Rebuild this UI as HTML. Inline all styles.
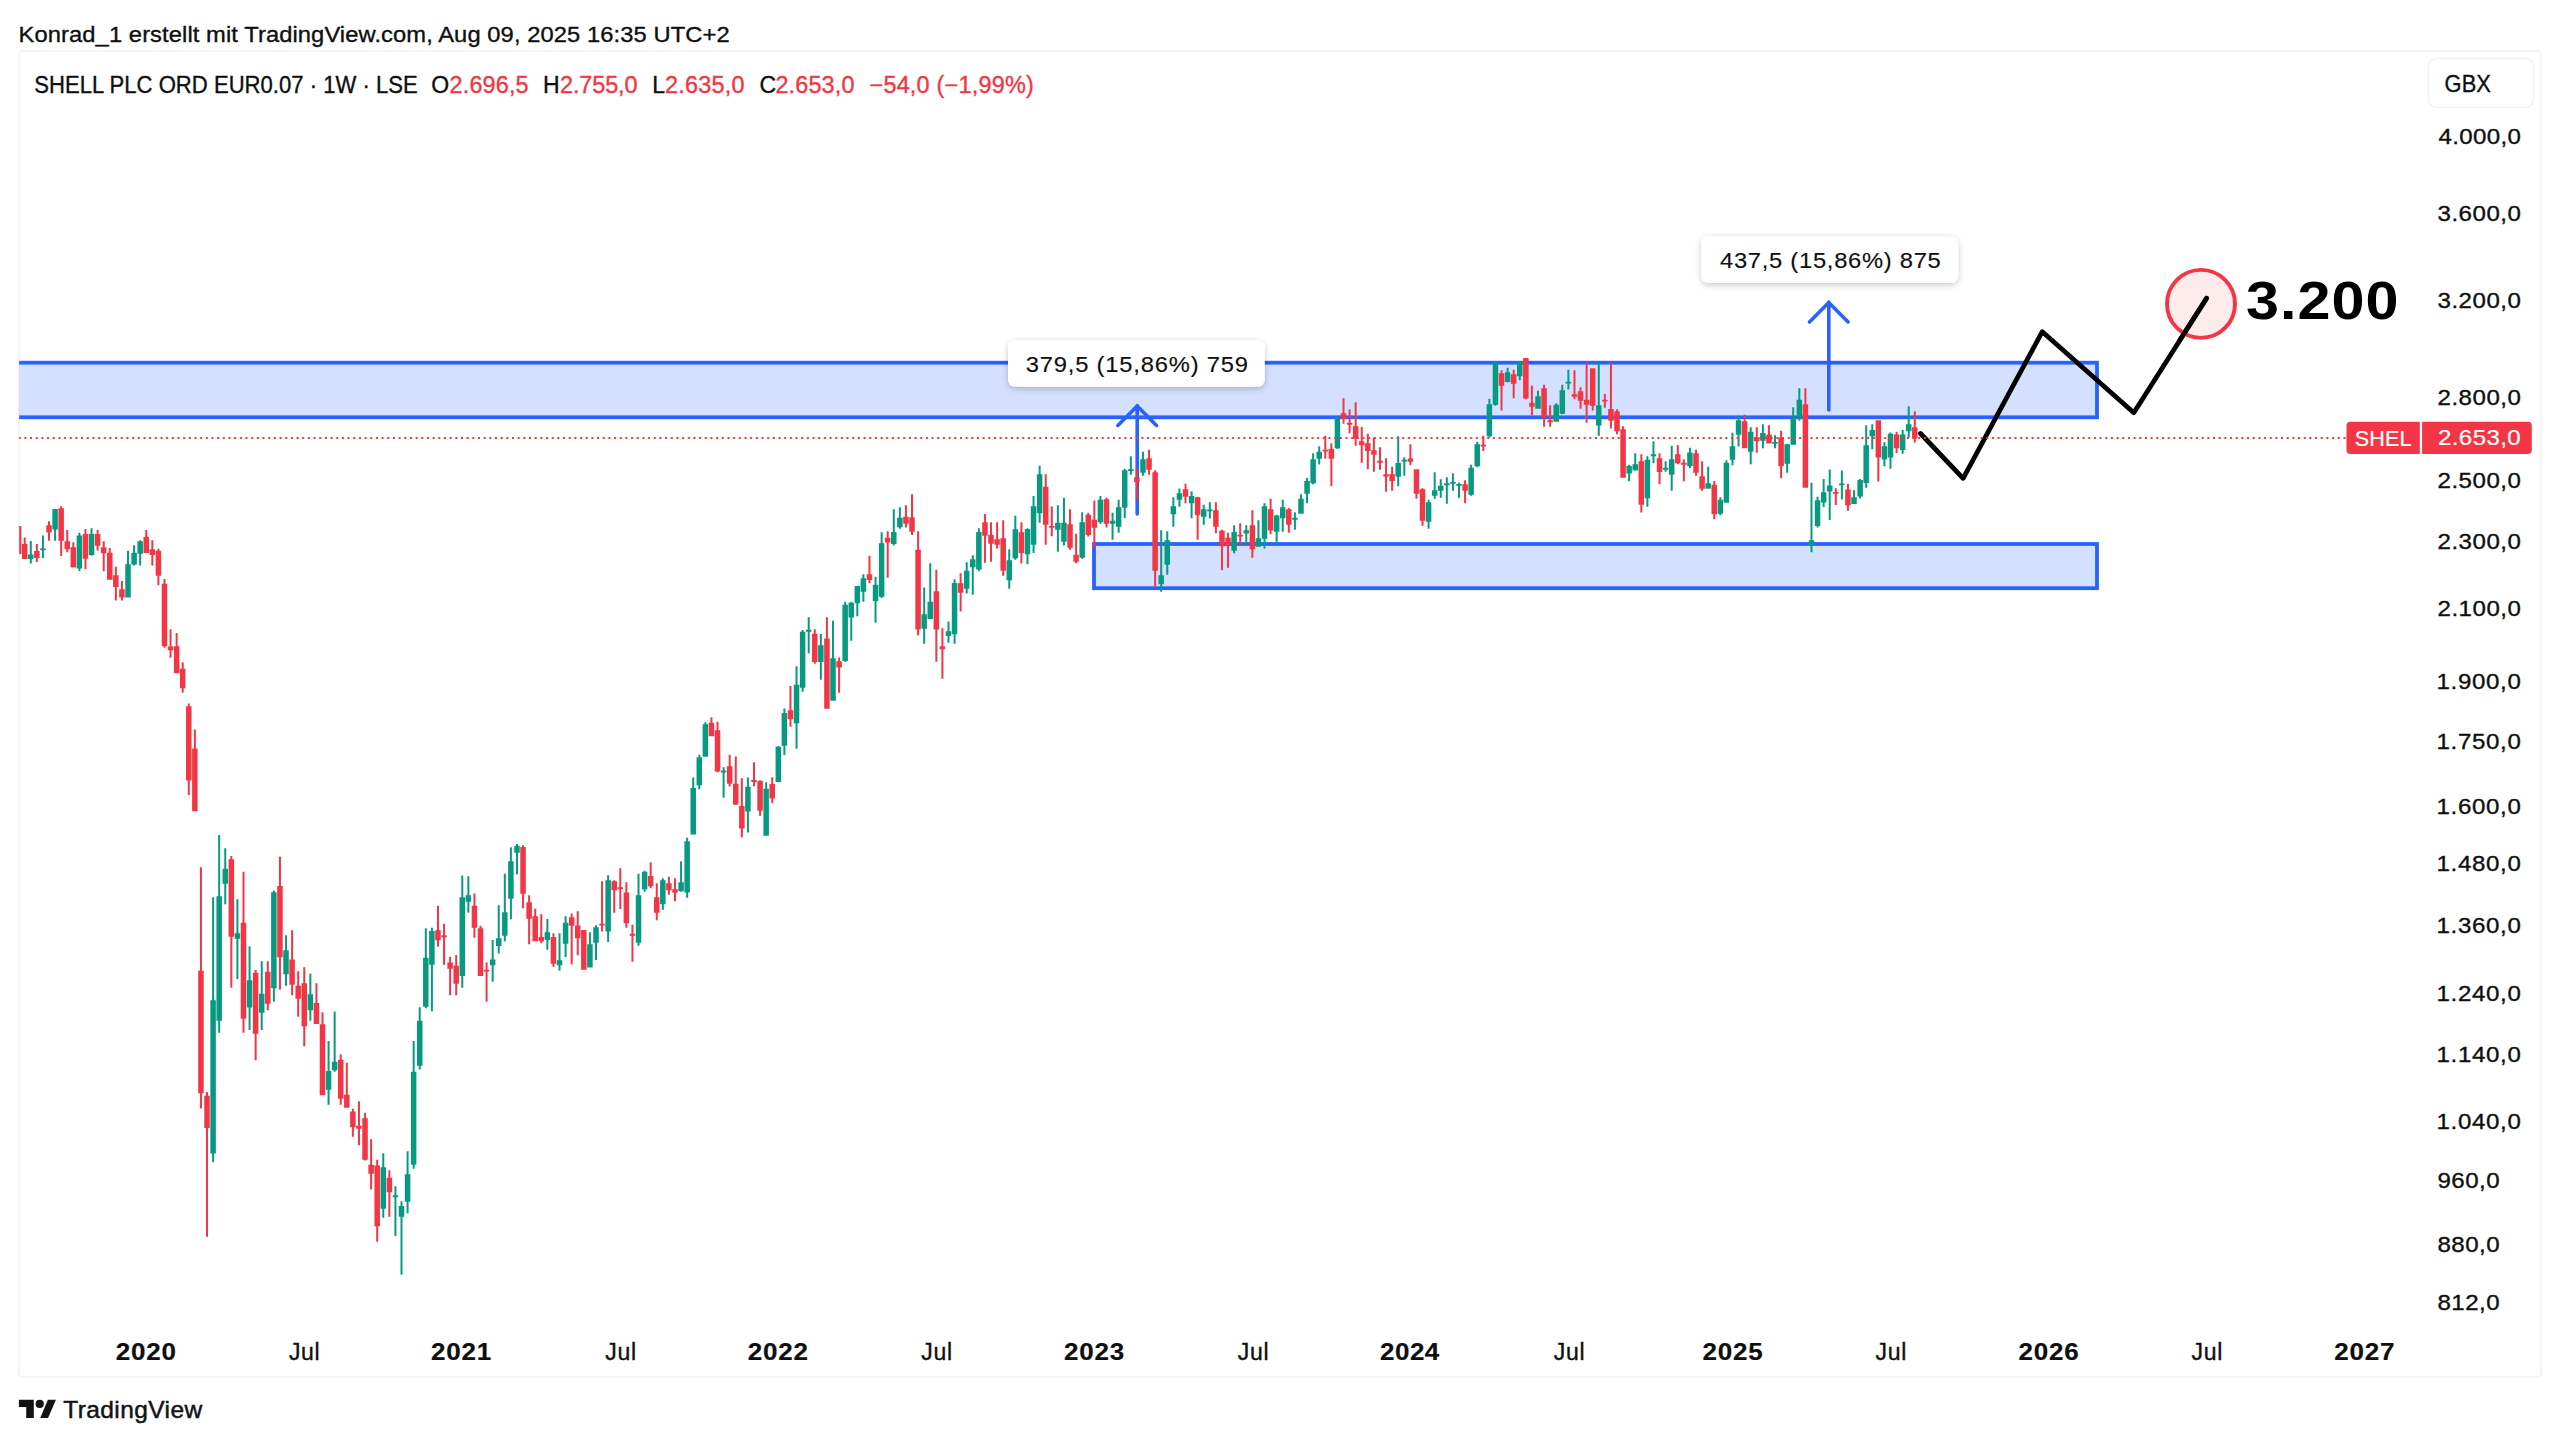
<!DOCTYPE html>
<html lang="de"><head><meta charset="utf-8"><title>SHELL PLC ORD EUR0.07 · 1W · LSE</title>
<style>html,body{margin:0;padding:0;background:#fff}body{width:2560px;height:1443px;position:relative;overflow:hidden;font-family:"Liberation Sans",sans-serif}</style></head>
<body>
<svg width="2560" height="1443" viewBox="0 0 2560 1443" style="position:absolute;left:0;top:0">
<defs><filter id="sh" x="-10%" y="-30%" width="120%" height="170%"><feDropShadow dx="0" dy="2" stdDeviation="3" flood-color="#000" flood-opacity="0.22"/></filter>
<clipPath id="cp"><rect x="19.2" y="52" width="2400" height="1280"/></clipPath><clipPath id="cp2"><rect x="19.2" y="52" width="2328" height="1280"/></clipPath></defs>
<rect x="19" y="51" width="2522" height="1326" rx="4" fill="none" stroke="#f4f4f4" stroke-width="2"/>
<rect x="2428.5" y="58.5" width="105" height="49" rx="8" fill="#fff" stroke="#f1f1f1" stroke-width="1.5"/>
<g clip-path="url(#cp)">
<rect x="0" y="362.7" width="2097" height="54.6" fill="#2962ff" fill-opacity="0.2" stroke="#2962ff" stroke-width="3.8"/>
<rect x="1094" y="544" width="1003" height="44.2" fill="#2962ff" fill-opacity="0.2" stroke="#2962ff" stroke-width="3.8"/>
<path d="M1137.2 514 L1137.2 405.5 M1117.9 425.4 L1137.2 406.0 L1156.5 425.4" fill="none" stroke="#2962ff" stroke-width="3.6" stroke-linecap="round" stroke-linejoin="miter"/>
<path d="M1828.8 410 L1828.8 302 M1809.5 321.9 L1828.8 302.5 L1848.1 321.9" fill="none" stroke="#2962ff" stroke-width="3.6" stroke-linecap="round" stroke-linejoin="miter"/>
<polyline points="1920.5,433.5 1963.1,478.3 2042.3,331.7 2133.8,412.7 2206.6,298.2" fill="none" stroke="#000" stroke-width="4.8" stroke-linecap="round" stroke-linejoin="round"/>
</g>
<circle cx="2201" cy="303.9" r="34" fill="#f23645" fill-opacity="0.1" stroke="#f23645" stroke-width="3.9"/>
<polyline points="2180,339.8 2206.6,298.2" fill="none" stroke="#000" stroke-width="4.8" stroke-linecap="round"/>
<g clip-path="url(#cp)" shape-rendering="auto">
<path d="M17.62 526.0h2.0V554.0h-2.0zM15.87 526.0h5.5V554.0h-5.5zM23.70 537.5h2.0V559.0h-2.0zM21.95 544.0h5.5V559.0h-5.5z" fill="#f23645"/>
<path d="M29.78 541.0h2.0V563.5h-2.0zM28.03 554.5h5.5V559.0h-5.5z" fill="#089981"/>
<path d="M35.85 544.0h2.0V562.0h-2.0zM34.10 551.0h5.5V558.0h-5.5z" fill="#f23645"/>
<path d="M41.93 535.5h2.0V558.0h-2.0zM40.18 548.5h5.5V550.3h-5.5z" fill="#089981"/>
<path d="M48.01 521.2h2.0V540.8h-2.0zM46.26 525.2h5.5V532.5h-5.5z" fill="#f23645"/>
<path d="M54.09 509.0h2.0V540.8h-2.0zM52.34 509.0h5.5V529.5h-5.5z" fill="#089981"/>
<path d="M60.16 506.2h2.0V556.0h-2.0zM58.41 508.3h5.5V540.8h-5.5zM66.24 530.0h2.0V552.2h-2.0zM64.49 541.2h5.5V549.2h-5.5zM72.32 542.2h2.0V567.5h-2.0zM70.57 547.2h5.5V567.5h-5.5z" fill="#f23645"/>
<path d="M78.40 532.8h2.0V571.0h-2.0zM76.65 535.5h5.5V568.5h-5.5z" fill="#089981"/>
<path d="M84.47 529.0h2.0V569.3h-2.0zM82.72 534.0h5.5V558.8h-5.5z" fill="#f23645"/>
<path d="M90.55 528.2h2.0V555.7h-2.0zM88.80 534.0h5.5V555.0h-5.5z" fill="#089981"/>
<path d="M96.63 530.0h2.0V550.5h-2.0zM94.88 534.0h5.5V545.8h-5.5zM102.71 541.2h2.0V571.2h-2.0zM100.96 547.2h5.5V553.2h-5.5zM108.78 548.0h2.0V579.8h-2.0zM107.03 552.8h5.5V579.8h-5.5zM114.86 566.8h2.0V600.5h-2.0zM113.11 575.2h5.5V587.0h-5.5zM120.94 581.0h2.0V600.5h-2.0zM119.19 589.2h5.5V597.5h-5.5z" fill="#f23645"/>
<path d="M127.02 550.8h2.0V597.5h-2.0zM125.27 564.2h5.5V597.5h-5.5zM133.09 545.2h2.0V565.5h-2.0zM131.34 552.8h5.5V564.5h-5.5zM139.17 540.2h2.0V565.5h-2.0zM137.42 541.2h5.5V553.8h-5.5z" fill="#089981"/>
<path d="M145.25 530.0h2.0V553.0h-2.0zM143.50 536.8h5.5V553.0h-5.5zM151.33 540.2h2.0V565.5h-2.0zM149.58 549.2h5.5V555.0h-5.5zM157.40 548.8h2.0V585.2h-2.0zM155.65 550.8h5.5V575.8h-5.5zM163.48 579.0h2.0V647.7h-2.0zM161.73 583.8h5.5V646.2h-5.5zM169.56 629.2h2.0V657.7h-2.0zM167.81 646.5h5.5V650.2h-5.5zM175.64 633.0h2.0V673.2h-2.0zM173.89 646.2h5.5V673.2h-5.5zM181.71 662.2h2.0V692.7h-2.0zM179.96 668.7h5.5V688.2h-5.5zM187.79 703.5h2.0V795.0h-2.0zM186.04 706.2h5.5V780.6h-5.5zM193.87 729.4h2.0V811.2h-2.0zM192.12 748.5h5.5V811.2h-5.5zM199.95 867.2h2.0V1108.5h-2.0zM198.20 970.7h5.5V1093.2h-5.5zM206.02 1092.0h2.0V1236.7h-2.0zM204.27 1095.7h5.5V1128.0h-5.5z" fill="#f23645"/>
<path d="M212.10 897.2h2.0V1162.2h-2.0zM210.35 1000.2h5.5V1153.5h-5.5zM218.18 835.0h2.0V1032.7h-2.0zM216.43 896.2h5.5V1020.7h-5.5zM224.26 848.2h2.0V904.3h-2.0zM222.51 868.7h5.5V883.7h-5.5z" fill="#089981"/>
<path d="M230.33 856.0h2.0V987.7h-2.0zM228.58 859.3h5.5V936.7h-5.5z" fill="#f23645"/>
<path d="M236.41 899.2h2.0V979.0h-2.0zM234.66 933.2h5.5V938.8h-5.5z" fill="#089981"/>
<path d="M242.49 871.7h2.0V1032.7h-2.0zM240.74 922.7h5.5V1018.7h-5.5z" fill="#f23645"/>
<path d="M248.57 946.3h2.0V1030.0h-2.0zM246.82 980.2h5.5V1007.5h-5.5z" fill="#089981"/>
<path d="M254.64 970.0h2.0V1060.2h-2.0zM252.89 972.7h5.5V1033.7h-5.5z" fill="#f23645"/>
<path d="M260.72 961.3h2.0V1030.0h-2.0zM258.97 993.7h5.5V1012.7h-5.5z" fill="#089981"/>
<path d="M266.80 961.3h2.0V1010.2h-2.0zM265.05 971.8h5.5V1003.7h-5.5z" fill="#f23645"/>
<path d="M272.88 890.5h2.0V1001.8h-2.0zM271.13 892.3h5.5V988.3h-5.5z" fill="#089981"/>
<path d="M278.95 856.7h2.0V989.5h-2.0zM277.20 886.0h5.5V957.2h-5.5z" fill="#f23645"/>
<path d="M285.03 935.2h2.0V985.7h-2.0zM283.28 950.2h5.5V974.2h-5.5z" fill="#089981"/>
<path d="M291.11 930.2h2.0V995.2h-2.0zM289.36 959.5h5.5V984.7h-5.5zM297.19 971.2h2.0V1016.8h-2.0zM295.44 985.7h5.5V998.8h-5.5zM303.26 967.3h2.0V1046.2h-2.0zM301.51 983.2h5.5V1026.2h-5.5z" fill="#f23645"/>
<path d="M309.34 973.7h2.0V1020.7h-2.0zM307.59 994.3h5.5V1010.2h-5.5z" fill="#089981"/>
<path d="M315.42 983.2h2.0V1024.0h-2.0zM313.67 1003.0h5.5V1024.0h-5.5zM321.50 1012.3h2.0V1095.3h-2.0zM319.75 1024.2h5.5V1095.3h-5.5z" fill="#f23645"/>
<path d="M327.57 1041.0h2.0V1104.7h-2.0zM325.82 1071.0h5.5V1089.7h-5.5zM333.65 1011.5h2.0V1071.7h-2.0zM331.90 1061.7h5.5V1070.2h-5.5z" fill="#089981"/>
<path d="M339.73 1054.2h2.0V1104.7h-2.0zM337.98 1059.7h5.5V1098.7h-5.5zM345.81 1062.7h2.0V1107.7h-2.0zM344.06 1094.7h5.5V1107.7h-5.5zM351.88 1108.8h2.0V1136.7h-2.0zM350.13 1111.5h5.5V1127.2h-5.5zM357.96 1101.3h2.0V1145.2h-2.0zM356.21 1125.7h5.5V1128.7h-5.5zM364.04 1112.7h2.0V1160.5h-2.0zM362.29 1118.2h5.5V1159.8h-5.5zM370.12 1139.2h2.0V1189.5h-2.0zM368.37 1164.7h5.5V1173.7h-5.5zM376.19 1159.8h2.0V1241.7h-2.0zM374.44 1165.5h5.5V1226.2h-5.5z" fill="#f23645"/>
<path d="M382.27 1153.2h2.0V1217.7h-2.0zM380.52 1167.3h5.5V1208.7h-5.5z" fill="#089981"/>
<path d="M388.35 1170.3h2.0V1216.8h-2.0zM386.60 1177.8h5.5V1192.2h-5.5z" fill="#f23645"/>
<path d="M394.43 1186.2h2.0V1236.0h-2.0zM392.68 1195.2h5.5V1197.3h-5.5zM400.50 1201.2h2.0V1274.7h-2.0zM398.75 1206.0h5.5V1216.8h-5.5zM406.58 1151.2h2.0V1213.2h-2.0zM404.83 1174.2h5.5V1201.8h-5.5zM412.66 1041.0h2.0V1168.7h-2.0zM410.91 1071.7h5.5V1164.7h-5.5zM418.74 1007.2h2.0V1069.5h-2.0zM416.99 1020.7h5.5V1065.7h-5.5zM424.81 928.3h2.0V1008.2h-2.0zM423.06 957.7h5.5V1006.7h-5.5zM430.89 927.7h2.0V1011.2h-2.0zM429.14 931.0h5.5V964.7h-5.5z" fill="#089981"/>
<path d="M436.97 905.8h2.0V946.7h-2.0zM435.22 930.2h5.5V940.3h-5.5zM443.05 923.8h2.0V964.7h-2.0zM441.30 935.2h5.5V937.3h-5.5zM449.12 956.8h2.0V995.2h-2.0zM447.37 962.5h5.5V968.8h-5.5zM455.20 955.0h2.0V995.2h-2.0zM453.45 965.8h5.5V983.8h-5.5z" fill="#f23645"/>
<path d="M461.28 875.5h2.0V987.7h-2.0zM459.53 897.2h5.5V976.0h-5.5zM467.36 876.2h2.0V912.7h-2.0zM465.61 895.3h5.5V901.7h-5.5z" fill="#089981"/>
<path d="M473.43 893.5h2.0V937.7h-2.0zM471.68 905.8h5.5V927.7h-5.5zM479.51 925.7h2.0V976.0h-2.0zM477.76 928.3h5.5V976.0h-5.5zM485.59 962.5h2.0V1001.8h-2.0zM483.84 969.7h5.5V971.5h-5.5z" fill="#f23645"/>
<path d="M491.67 940.0h2.0V981.7h-2.0zM489.92 959.5h5.5V965.2h-5.5zM497.74 905.2h2.0V953.5h-2.0zM495.99 938.2h5.5V946.0h-5.5zM503.82 873.7h2.0V941.2h-2.0zM502.07 912.2h5.5V935.8h-5.5zM509.90 847.3h2.0V919.3h-2.0zM508.15 861.2h5.5V898.7h-5.5zM515.98 844.0h2.0V874.3h-2.0zM514.23 845.8h5.5V852.7h-5.5z" fill="#089981"/>
<path d="M522.05 845.2h2.0V908.2h-2.0zM520.30 847.0h5.5V893.8h-5.5zM528.13 895.3h2.0V944.2h-2.0zM526.38 902.2h5.5V918.7h-5.5zM534.21 908.8h2.0V941.2h-2.0zM532.46 916.3h5.5V941.2h-5.5zM540.29 914.2h2.0V943.3h-2.0zM538.54 937.0h5.5V941.2h-5.5z" fill="#f23645"/>
<path d="M546.37 919.0h2.0V949.7h-2.0zM544.62 932.2h5.5V940.0h-5.5z" fill="#089981"/>
<path d="M552.44 933.2h2.0V966.7h-2.0zM550.69 937.0h5.5V963.7h-5.5z" fill="#f23645"/>
<path d="M558.52 933.2h2.0V970.7h-2.0zM556.77 960.2h5.5V965.2h-5.5zM564.60 916.2h2.0V957.0h-2.0zM562.85 922.8h5.5V943.8h-5.5z" fill="#089981"/>
<path d="M570.68 913.5h2.0V964.5h-2.0zM568.93 917.2h5.5V925.8h-5.5zM576.75 911.2h2.0V955.2h-2.0zM575.00 925.5h5.5V938.2h-5.5zM582.83 930.0h2.0V969.7h-2.0zM581.08 930.0h5.5V969.7h-5.5z" fill="#f23645"/>
<path d="M588.91 932.2h2.0V967.5h-2.0zM587.16 944.2h5.5V967.5h-5.5zM594.99 925.2h2.0V960.0h-2.0zM593.24 927.3h5.5V942.7h-5.5z" fill="#089981"/>
<path d="M601.06 881.2h2.0V931.5h-2.0zM599.31 923.7h5.5V925.5h-5.5z" fill="#f23645"/>
<path d="M607.14 875.2h2.0V942.0h-2.0zM605.39 880.2h5.5V931.5h-5.5z" fill="#089981"/>
<path d="M613.22 880.2h2.0V912.7h-2.0zM611.47 881.2h5.5V890.2h-5.5zM619.29 868.2h2.0V909.0h-2.0zM617.54 887.2h5.5V889.2h-5.5zM625.37 882.3h2.0V927.7h-2.0zM623.62 892.5h5.5V923.2h-5.5zM631.45 924.7h2.0V961.8h-2.0zM629.70 933.7h5.5V935.7h-5.5z" fill="#f23645"/>
<path d="M637.53 873.7h2.0V945.7h-2.0zM635.78 895.2h5.5V942.7h-5.5zM643.61 870.7h2.0V891.7h-2.0zM641.86 871.8h5.5V889.2h-5.5z" fill="#089981"/>
<path d="M649.68 862.2h2.0V888.3h-2.0zM647.93 876.0h5.5V886.2h-5.5zM655.76 883.2h2.0V920.2h-2.0zM654.01 897.3h5.5V912.7h-5.5z" fill="#f23645"/>
<path d="M661.84 878.2h2.0V909.7h-2.0zM660.09 880.2h5.5V904.2h-5.5z" fill="#089981"/>
<path d="M667.91 876.7h2.0V894.7h-2.0zM666.16 883.2h5.5V890.2h-5.5zM673.99 878.2h2.0V901.2h-2.0zM672.24 889.2h5.5V892.8h-5.5z" fill="#f23645"/>
<path d="M680.07 861.3h2.0V891.7h-2.0zM678.32 882.3h5.5V891.3h-5.5zM686.15 837.7h2.0V897.7h-2.0zM684.40 841.2h5.5V892.5h-5.5zM692.23 777.5h2.0V834.4h-2.0zM690.48 787.9h5.5V834.4h-5.5zM698.30 754.7h2.0V789.2h-2.0zM696.55 757.2h5.5V785.3h-5.5zM704.38 722.3h2.0V756.8h-2.0zM702.63 724.2h5.5V756.8h-5.5z" fill="#089981"/>
<path d="M710.46 717.2h2.0V736.2h-2.0zM708.71 722.7h5.5V736.2h-5.5zM716.53 721.7h2.0V772.2h-2.0zM714.78 730.2h5.5V771.5h-5.5z" fill="#f23645"/>
<path d="M722.61 767.3h2.0V797.7h-2.0zM720.86 770.6h5.5V772.4h-5.5z" fill="#089981"/>
<path d="M728.69 754.7h2.0V786.5h-2.0zM726.94 766.2h5.5V783.8h-5.5zM734.77 756.5h2.0V805.0h-2.0zM733.02 783.8h5.5V804.6h-5.5zM740.85 778.2h2.0V837.3h-2.0zM739.10 806.0h5.5V828.6h-5.5z" fill="#f23645"/>
<path d="M746.92 777.5h2.0V832.6h-2.0zM745.17 786.8h5.5V811.6h-5.5z" fill="#089981"/>
<path d="M753.00 762.2h2.0V786.2h-2.0zM751.25 780.1h5.5V781.9h-5.5zM759.08 780.2h2.0V815.7h-2.0zM757.33 781.0h5.5V810.8h-5.5z" fill="#f23645"/>
<path d="M765.15 782.2h2.0V835.8h-2.0zM763.40 788.7h5.5V835.8h-5.5z" fill="#089981"/>
<path d="M771.23 777.2h2.0V803.3h-2.0zM769.48 783.9h5.5V798.6h-5.5z" fill="#f23645"/>
<path d="M777.31 746.0h2.0V782.3h-2.0zM775.56 746.7h5.5V782.1h-5.5zM783.39 708.5h2.0V755.0h-2.0zM781.64 713.0h5.5V745.7h-5.5z" fill="#089981"/>
<path d="M789.47 686.0h2.0V726.8h-2.0zM787.72 710.3h5.5V719.3h-5.5z" fill="#f23645"/>
<path d="M795.54 666.2h2.0V748.7h-2.0zM793.79 684.8h5.5V723.2h-5.5zM801.62 629.9h2.0V691.7h-2.0zM799.87 631.8h5.5V687.8h-5.5zM807.70 617.2h2.0V653.3h-2.0zM805.95 629.8h5.5V631.7h-5.5z" fill="#089981"/>
<path d="M813.77 629.3h2.0V663.8h-2.0zM812.02 633.8h5.5V662.0h-5.5z" fill="#f23645"/>
<path d="M819.85 633.9h2.0V679.7h-2.0zM818.10 645.2h5.5V661.9h-5.5z" fill="#089981"/>
<path d="M825.93 617.2h2.0V708.8h-2.0zM824.18 638.4h5.5V708.8h-5.5z" fill="#f23645"/>
<path d="M832.01 620.7h2.0V700.7h-2.0zM830.26 658.2h5.5V700.7h-5.5z" fill="#089981"/>
<path d="M838.09 657.4h2.0V692.7h-2.0zM836.34 661.2h5.5V667.5h-5.5z" fill="#f23645"/>
<path d="M844.16 601.7h2.0V661.7h-2.0zM842.41 604.7h5.5V661.0h-5.5zM850.24 601.7h2.0V640.8h-2.0zM848.49 602.8h5.5V617.5h-5.5zM856.32 585.7h2.0V616.3h-2.0zM854.57 586.0h5.5V603.2h-5.5zM862.39 574.3h2.0V601.7h-2.0zM860.64 578.2h5.5V591.7h-5.5z" fill="#089981"/>
<path d="M868.47 555.7h2.0V583.3h-2.0zM866.72 574.3h5.5V580.0h-5.5z" fill="#f23645"/>
<path d="M874.55 576.7h2.0V622.7h-2.0zM872.80 584.8h5.5V601.0h-5.5zM880.63 532.3h2.0V598.0h-2.0zM878.88 543.2h5.5V596.8h-5.5z" fill="#089981"/>
<path d="M886.71 531.2h2.0V577.7h-2.0zM884.96 537.7h5.5V542.5h-5.5z" fill="#f23645"/>
<path d="M892.78 509.2h2.0V545.5h-2.0zM891.03 532.0h5.5V544.0h-5.5zM898.86 507.2h2.0V528.7h-2.0zM897.11 517.7h5.5V527.2h-5.5z" fill="#089981"/>
<path d="M904.94 505.3h2.0V527.5h-2.0zM903.19 516.7h5.5V523.7h-5.5zM911.01 494.2h2.0V535.0h-2.0zM909.26 517.3h5.5V531.7h-5.5zM917.09 531.2h2.0V635.2h-2.0zM915.34 549.7h5.5V629.4h-5.5z" fill="#f23645"/>
<path d="M923.17 587.5h2.0V643.7h-2.0zM921.42 614.2h5.5V628.7h-5.5zM929.25 563.2h2.0V619.0h-2.0zM927.50 601.7h5.5V619.0h-5.5z" fill="#089981"/>
<path d="M935.33 569.8h2.0V661.7h-2.0zM933.58 591.2h5.5V629.6h-5.5zM941.40 628.2h2.0V678.8h-2.0zM939.65 646.3h5.5V649.3h-5.5z" fill="#f23645"/>
<path d="M947.48 621.6h2.0V642.7h-2.0zM945.73 631.3h5.5V636.0h-5.5zM953.56 579.2h2.0V643.7h-2.0zM951.81 583.0h5.5V634.3h-5.5z" fill="#089981"/>
<path d="M959.63 573.2h2.0V611.5h-2.0zM957.88 583.3h5.5V592.7h-5.5z" fill="#f23645"/>
<path d="M965.71 562.3h2.0V593.5h-2.0zM963.96 570.7h5.5V588.7h-5.5zM971.79 555.2h2.0V594.7h-2.0zM970.04 559.3h5.5V567.2h-5.5zM977.87 528.2h2.0V571.0h-2.0zM976.12 532.0h5.5V569.5h-5.5z" fill="#089981"/>
<path d="M983.95 514.0h2.0V562.7h-2.0zM982.20 522.2h5.5V535.7h-5.5zM990.02 522.2h2.0V561.7h-2.0zM988.27 534.7h5.5V543.7h-5.5zM996.10 522.2h2.0V548.5h-2.0zM994.35 539.2h5.5V544.7h-5.5zM1002.18 520.3h2.0V575.8h-2.0zM1000.43 538.3h5.5V570.7h-5.5z" fill="#f23645"/>
<path d="M1008.25 549.2h2.0V588.7h-2.0zM1006.50 560.2h5.5V580.3h-5.5zM1014.33 515.8h2.0V559.7h-2.0zM1012.58 529.3h5.5V558.2h-5.5z" fill="#089981"/>
<path d="M1020.41 522.2h2.0V563.5h-2.0zM1018.66 532.3h5.5V553.0h-5.5z" fill="#f23645"/>
<path d="M1026.49 528.2h2.0V564.2h-2.0zM1024.74 529.0h5.5V554.2h-5.5zM1032.56 496.0h2.0V553.0h-2.0zM1030.81 506.2h5.5V544.7h-5.5zM1038.64 465.7h2.0V522.7h-2.0zM1036.89 474.2h5.5V513.2h-5.5z" fill="#089981"/>
<path d="M1044.72 474.2h2.0V544.7h-2.0zM1042.97 486.7h5.5V524.8h-5.5zM1050.80 506.5h2.0V536.2h-2.0zM1049.05 526.0h5.5V527.8h-5.5z" fill="#f23645"/>
<path d="M1056.88 505.3h2.0V551.8h-2.0zM1055.12 522.7h5.5V529.7h-5.5zM1062.95 497.8h2.0V545.5h-2.0zM1061.20 522.7h5.5V541.7h-5.5z" fill="#089981"/>
<path d="M1069.03 509.2h2.0V549.7h-2.0zM1067.28 524.2h5.5V547.7h-5.5zM1075.11 533.8h2.0V563.2h-2.0zM1073.36 554.8h5.5V561.7h-5.5z" fill="#f23645"/>
<path d="M1081.18 512.2h2.0V558.7h-2.0zM1079.43 522.2h5.5V557.8h-5.5z" fill="#089981"/>
<path d="M1087.26 512.8h2.0V536.5h-2.0zM1085.51 514.7h5.5V535.0h-5.5zM1093.34 500.5h2.0V548.5h-2.0zM1091.59 519.7h5.5V527.8h-5.5z" fill="#f23645"/>
<path d="M1099.42 496.0h2.0V523.7h-2.0zM1097.67 499.7h5.5V522.2h-5.5z" fill="#089981"/>
<path d="M1105.49 497.8h2.0V527.5h-2.0zM1103.74 499.3h5.5V523.7h-5.5z" fill="#f23645"/>
<path d="M1111.57 512.8h2.0V539.8h-2.0zM1109.82 520.7h5.5V523.7h-5.5zM1117.65 499.7h2.0V532.7h-2.0zM1115.90 507.2h5.5V526.7h-5.5zM1123.73 469.0h2.0V518.2h-2.0zM1121.98 470.2h5.5V507.7h-5.5zM1129.81 456.2h2.0V474.7h-2.0zM1128.06 469.2h5.5V470.9h-5.5z" fill="#089981"/>
<path d="M1135.88 468.2h2.0V499.0h-2.0zM1134.13 477.2h5.5V482.2h-5.5z" fill="#f23645"/>
<path d="M1141.96 451.7h2.0V475.7h-2.0zM1140.21 459.2h5.5V472.7h-5.5z" fill="#089981"/>
<path d="M1148.04 449.8h2.0V474.7h-2.0zM1146.29 458.2h5.5V469.7h-5.5zM1154.12 470.2h2.0V587.2h-2.0zM1152.37 472.3h5.5V570.7h-5.5z" fill="#f23645"/>
<path d="M1160.19 530.2h2.0V591.7h-2.0zM1158.44 575.2h5.5V584.2h-5.5zM1166.27 531.2h2.0V574.7h-2.0zM1164.52 540.2h5.5V564.7h-5.5zM1172.35 497.2h2.0V526.7h-2.0zM1170.60 506.2h5.5V514.3h-5.5zM1178.42 488.5h2.0V506.8h-2.0zM1176.67 493.3h5.5V499.7h-5.5z" fill="#089981"/>
<path d="M1184.50 483.7h2.0V503.2h-2.0zM1182.75 489.2h5.5V496.7h-5.5z" fill="#f23645"/>
<path d="M1190.58 491.2h2.0V518.2h-2.0zM1188.83 496.0h5.5V503.2h-5.5z" fill="#089981"/>
<path d="M1196.66 496.7h2.0V539.8h-2.0zM1194.91 497.2h5.5V515.2h-5.5z" fill="#f23645"/>
<path d="M1202.73 504.7h2.0V524.8h-2.0zM1200.98 509.2h5.5V516.7h-5.5zM1208.81 502.3h2.0V518.5h-2.0zM1207.06 509.5h5.5V511.3h-5.5z" fill="#089981"/>
<path d="M1214.89 502.3h2.0V533.2h-2.0zM1213.14 510.2h5.5V526.7h-5.5zM1220.97 529.7h2.0V570.2h-2.0zM1219.22 530.8h5.5V546.2h-5.5zM1227.05 532.7h2.0V567.7h-2.0zM1225.30 537.7h5.5V545.8h-5.5z" fill="#f23645"/>
<path d="M1233.12 525.2h2.0V553.3h-2.0zM1231.37 532.0h5.5V550.7h-5.5z" fill="#089981"/>
<path d="M1239.20 523.3h2.0V545.8h-2.0zM1237.45 534.7h5.5V536.5h-5.5z" fill="#f23645"/>
<path d="M1245.28 525.2h2.0V545.8h-2.0zM1243.53 530.2h5.5V533.5h-5.5z" fill="#089981"/>
<path d="M1251.36 510.2h2.0V557.8h-2.0zM1249.61 525.2h5.5V549.2h-5.5z" fill="#f23645"/>
<path d="M1257.43 520.3h2.0V546.7h-2.0zM1255.68 538.3h5.5V546.7h-5.5zM1263.51 503.2h2.0V548.5h-2.0zM1261.76 506.2h5.5V538.7h-5.5z" fill="#089981"/>
<path d="M1269.59 498.7h2.0V534.2h-2.0zM1267.84 509.2h5.5V530.5h-5.5z" fill="#f23645"/>
<path d="M1275.66 514.7h2.0V545.8h-2.0zM1273.91 515.5h5.5V531.7h-5.5zM1281.74 499.7h2.0V531.7h-2.0zM1279.99 507.2h5.5V518.2h-5.5z" fill="#089981"/>
<path d="M1287.82 508.0h2.0V532.7h-2.0zM1286.07 509.2h5.5V524.8h-5.5z" fill="#f23645"/>
<path d="M1293.90 512.2h2.0V529.7h-2.0zM1292.15 517.7h5.5V519.7h-5.5zM1299.97 494.2h2.0V513.7h-2.0zM1298.22 498.7h5.5V513.7h-5.5zM1306.05 478.0h2.0V503.2h-2.0zM1304.30 481.0h5.5V493.7h-5.5zM1312.13 453.2h2.0V484.3h-2.0zM1310.38 459.2h5.5V483.2h-5.5zM1318.21 446.2h2.0V464.5h-2.0zM1316.46 451.7h5.5V458.8h-5.5z" fill="#089981"/>
<path d="M1324.29 435.7h2.0V458.8h-2.0zM1322.54 449.7h5.5V451.4h-5.5zM1330.36 443.2h2.0V486.2h-2.0zM1328.61 448.7h5.5V458.8h-5.5z" fill="#f23645"/>
<path d="M1336.44 415.7h2.0V449.0h-2.0zM1334.69 418.7h5.5V448.3h-5.5z" fill="#089981"/>
<path d="M1342.52 398.2h2.0V423.7h-2.0zM1340.77 413.2h5.5V418.7h-5.5zM1348.60 409.3h2.0V433.3h-2.0zM1346.85 422.8h5.5V424.7h-5.5zM1354.67 402.2h2.0V445.7h-2.0zM1352.92 426.2h5.5V438.7h-5.5zM1360.75 427.0h2.0V462.7h-2.0zM1359.00 441.2h5.5V445.3h-5.5zM1366.83 433.7h2.0V469.3h-2.0zM1365.08 443.2h5.5V451.0h-5.5zM1372.90 437.5h2.0V471.7h-2.0zM1371.15 450.2h5.5V454.7h-5.5zM1378.98 447.2h2.0V469.7h-2.0zM1377.23 460.7h5.5V462.7h-5.5zM1385.06 458.2h2.0V491.8h-2.0zM1383.31 474.2h5.5V476.5h-5.5zM1391.14 466.7h2.0V490.7h-2.0zM1389.39 474.2h5.5V481.0h-5.5z" fill="#f23645"/>
<path d="M1397.21 436.3h2.0V486.2h-2.0zM1395.46 463.0h5.5V476.8h-5.5zM1403.29 457.3h2.0V475.7h-2.0zM1401.54 459.7h5.5V461.5h-5.5z" fill="#089981"/>
<path d="M1409.37 444.2h2.0V465.2h-2.0zM1407.62 458.5h5.5V461.8h-5.5zM1415.45 469.3h2.0V498.7h-2.0zM1413.70 469.3h5.5V493.7h-5.5zM1421.52 488.2h2.0V525.7h-2.0zM1419.77 489.2h5.5V520.7h-5.5z" fill="#f23645"/>
<path d="M1427.60 499.7h2.0V528.7h-2.0zM1425.85 502.3h5.5V521.8h-5.5zM1433.68 472.3h2.0V498.7h-2.0zM1431.93 490.3h5.5V495.7h-5.5zM1439.76 479.2h2.0V497.8h-2.0zM1438.01 485.8h5.5V490.7h-5.5zM1445.84 477.2h2.0V503.8h-2.0zM1444.09 483.2h5.5V485.2h-5.5zM1451.91 473.2h2.0V490.7h-2.0zM1450.16 482.1h5.5V483.8h-5.5zM1457.99 482.8h2.0V497.8h-2.0zM1456.24 484.0h5.5V485.8h-5.5z" fill="#089981"/>
<path d="M1464.07 480.2h2.0V503.2h-2.0zM1462.32 484.3h5.5V490.7h-5.5z" fill="#f23645"/>
<path d="M1470.14 464.8h2.0V495.7h-2.0zM1468.39 467.8h5.5V494.8h-5.5zM1476.22 441.7h2.0V467.2h-2.0zM1474.47 444.2h5.5V466.3h-5.5z" fill="#089981"/>
<path d="M1482.30 435.7h2.0V451.0h-2.0zM1480.55 444.7h5.5V446.5h-5.5z" fill="#f23645"/>
<path d="M1488.38 398.8h2.0V437.5h-2.0zM1486.63 404.2h5.5V436.3h-5.5zM1494.45 361.3h2.0V405.7h-2.0zM1492.70 363.2h5.5V404.8h-5.5z" fill="#089981"/>
<path d="M1500.53 370.3h2.0V410.5h-2.0zM1498.78 373.3h5.5V385.7h-5.5z" fill="#f23645"/>
<path d="M1506.61 367.7h2.0V382.3h-2.0zM1504.86 372.2h5.5V382.0h-5.5z" fill="#089981"/>
<path d="M1512.69 369.7h2.0V398.2h-2.0zM1510.94 374.2h5.5V383.8h-5.5z" fill="#f23645"/>
<path d="M1518.76 361.0h2.0V380.2h-2.0zM1517.01 361.7h5.5V376.3h-5.5z" fill="#089981"/>
<path d="M1524.84 358.0h2.0V399.2h-2.0zM1523.09 358.0h5.5V398.5h-5.5zM1530.92 385.7h2.0V415.3h-2.0zM1529.17 402.7h5.5V406.7h-5.5z" fill="#f23645"/>
<path d="M1537.00 390.7h2.0V408.7h-2.0zM1535.25 396.2h5.5V408.7h-5.5z" fill="#089981"/>
<path d="M1543.08 384.7h2.0V426.7h-2.0zM1541.33 388.3h5.5V417.2h-5.5zM1549.15 405.2h2.0V426.7h-2.0zM1547.40 420.2h5.5V422.2h-5.5z" fill="#f23645"/>
<path d="M1555.23 403.3h2.0V421.7h-2.0zM1553.48 404.8h5.5V421.7h-5.5zM1561.31 384.7h2.0V414.2h-2.0zM1559.56 390.2h5.5V413.8h-5.5zM1567.38 369.7h2.0V389.5h-2.0zM1565.63 381.7h5.5V383.5h-5.5z" fill="#089981"/>
<path d="M1573.46 370.3h2.0V399.2h-2.0zM1571.71 394.3h5.5V396.7h-5.5zM1579.54 387.2h2.0V408.7h-2.0zM1577.79 391.3h5.5V400.7h-5.5zM1585.62 362.2h2.0V422.8h-2.0zM1583.87 399.7h5.5V404.8h-5.5zM1591.69 368.2h2.0V410.5h-2.0zM1589.94 368.2h5.5V405.7h-5.5z" fill="#f23645"/>
<path d="M1597.77 362.2h2.0V435.7h-2.0zM1596.02 405.2h5.5V425.5h-5.5z" fill="#089981"/>
<path d="M1603.85 394.0h2.0V407.8h-2.0zM1602.10 399.7h5.5V401.5h-5.5zM1609.93 362.2h2.0V428.5h-2.0zM1608.18 409.0h5.5V420.7h-5.5zM1616.00 409.3h2.0V434.2h-2.0zM1614.25 411.2h5.5V431.2h-5.5zM1622.08 426.2h2.0V477.7h-2.0zM1620.33 429.2h5.5V477.7h-5.5z" fill="#f23645"/>
<path d="M1628.16 464.8h2.0V481.3h-2.0zM1626.41 466.0h5.5V473.5h-5.5zM1634.24 453.2h2.0V470.5h-2.0zM1632.49 464.2h5.5V470.5h-5.5z" fill="#089981"/>
<path d="M1640.32 454.3h2.0V512.5h-2.0zM1638.57 461.2h5.5V504.7h-5.5z" fill="#f23645"/>
<path d="M1646.39 456.2h2.0V506.8h-2.0zM1644.64 459.7h5.5V498.2h-5.5zM1652.47 441.2h2.0V463.3h-2.0zM1650.72 454.3h5.5V456.2h-5.5z" fill="#089981"/>
<path d="M1658.55 453.2h2.0V484.3h-2.0zM1656.80 458.2h5.5V472.0h-5.5z" fill="#f23645"/>
<path d="M1664.62 461.2h2.0V471.7h-2.0zM1662.88 467.8h5.5V469.7h-5.5zM1670.70 445.7h2.0V490.7h-2.0zM1668.95 459.2h5.5V474.7h-5.5z" fill="#089981"/>
<path d="M1676.78 445.0h2.0V464.2h-2.0zM1675.03 454.3h5.5V463.3h-5.5zM1682.86 459.2h2.0V481.3h-2.0zM1681.11 462.7h5.5V464.8h-5.5z" fill="#f23645"/>
<path d="M1688.93 447.7h2.0V468.2h-2.0zM1687.18 452.5h5.5V466.3h-5.5z" fill="#089981"/>
<path d="M1695.01 449.8h2.0V475.7h-2.0zM1693.26 453.2h5.5V472.7h-5.5zM1701.09 461.2h2.0V490.7h-2.0zM1699.34 476.2h5.5V488.8h-5.5z" fill="#f23645"/>
<path d="M1707.17 466.7h2.0V488.8h-2.0zM1705.42 483.2h5.5V488.8h-5.5z" fill="#089981"/>
<path d="M1713.24 481.0h2.0V519.2h-2.0zM1711.49 484.7h5.5V514.3h-5.5z" fill="#f23645"/>
<path d="M1719.32 497.2h2.0V515.2h-2.0zM1717.57 499.7h5.5V513.7h-5.5zM1725.40 460.3h2.0V502.7h-2.0zM1723.65 462.7h5.5V502.7h-5.5zM1731.48 432.7h2.0V465.2h-2.0zM1729.73 446.2h5.5V459.7h-5.5zM1737.56 415.7h2.0V446.5h-2.0zM1735.81 420.2h5.5V434.8h-5.5z" fill="#089981"/>
<path d="M1743.63 414.7h2.0V448.3h-2.0zM1741.88 421.3h5.5V448.3h-5.5z" fill="#f23645"/>
<path d="M1749.71 427.3h2.0V464.2h-2.0zM1747.96 431.8h5.5V451.7h-5.5z" fill="#089981"/>
<path d="M1755.79 427.3h2.0V452.8h-2.0zM1754.04 437.5h5.5V441.2h-5.5z" fill="#f23645"/>
<path d="M1761.87 424.3h2.0V448.3h-2.0zM1760.12 433.0h5.5V440.8h-5.5z" fill="#089981"/>
<path d="M1767.94 425.2h2.0V443.5h-2.0zM1766.19 434.5h5.5V443.5h-5.5z" fill="#f23645"/>
<path d="M1774.02 435.2h2.0V448.3h-2.0zM1772.27 442.0h5.5V443.8h-5.5z" fill="#089981"/>
<path d="M1780.10 430.7h2.0V478.3h-2.0zM1778.35 437.5h5.5V466.3h-5.5z" fill="#f23645"/>
<path d="M1786.17 443.8h2.0V472.7h-2.0zM1784.42 444.2h5.5V463.7h-5.5zM1792.25 407.2h2.0V444.7h-2.0zM1790.50 418.0h5.5V444.7h-5.5zM1798.33 388.3h2.0V420.7h-2.0zM1796.58 399.7h5.5V416.8h-5.5z" fill="#089981"/>
<path d="M1804.41 388.3h2.0V487.7h-2.0zM1802.66 404.2h5.5V487.7h-5.5z" fill="#f23645"/>
<path d="M1810.48 482.8h2.0V552.2h-2.0zM1808.73 540.2h5.5V545.8h-5.5zM1816.56 496.7h2.0V527.5h-2.0zM1814.81 500.2h5.5V526.0h-5.5zM1822.64 479.0h2.0V507.0h-2.0zM1820.89 492.2h5.5V502.5h-5.5zM1828.72 469.5h2.0V520.0h-2.0zM1826.97 485.5h5.5V491.5h-5.5z" fill="#089981"/>
<path d="M1834.79 488.2h2.0V505.0h-2.0zM1833.04 492.0h5.5V493.8h-5.5z" fill="#f23645"/>
<path d="M1840.87 470.5h2.0V499.5h-2.0zM1839.12 483.5h5.5V485.3h-5.5z" fill="#089981"/>
<path d="M1846.95 483.8h2.0V510.8h-2.0zM1845.20 489.5h5.5V505.5h-5.5z" fill="#f23645"/>
<path d="M1853.03 490.2h2.0V504.0h-2.0zM1851.28 497.2h5.5V504.0h-5.5zM1859.11 479.0h2.0V498.5h-2.0zM1857.36 480.0h5.5V496.5h-5.5zM1865.18 425.2h2.0V487.8h-2.0zM1863.43 445.2h5.5V483.0h-5.5zM1871.26 424.2h2.0V449.2h-2.0zM1869.51 430.0h5.5V436.2h-5.5z" fill="#089981"/>
<path d="M1877.34 420.2h2.0V481.5h-2.0zM1875.59 420.2h5.5V457.5h-5.5z" fill="#f23645"/>
<path d="M1883.41 442.2h2.0V466.2h-2.0zM1881.66 446.2h5.5V459.5h-5.5zM1889.49 432.5h2.0V468.8h-2.0zM1887.74 433.8h5.5V457.5h-5.5z" fill="#089981"/>
<path d="M1895.57 431.8h2.0V453.0h-2.0zM1893.82 434.5h5.5V448.2h-5.5z" fill="#f23645"/>
<path d="M1901.65 430.0h2.0V453.8h-2.0zM1899.90 434.5h5.5V450.0h-5.5zM1907.72 406.2h2.0V437.8h-2.0zM1905.97 424.2h5.5V431.2h-5.5z" fill="#089981"/>
<path d="M1913.80 411.2h2.0V442.5h-2.0zM1912.05 427.2h5.5V438.5h-5.5z" fill="#f23645"/>
</g>
<line x1="18.73" y1="438.1" x2="2346" y2="438.1" stroke="#f23645" stroke-width="2" stroke-dasharray="2 3.67" clip-path="url(#cp2)"/>
<path d="M2350.5 421.8H2419.8V454.1H2350.5a4 4 0 0 1-4-4V425.8a4 4 0 0 1 4-4z" fill="#f23645"/>
<path d="M2422.1 421.8H2527.8a4 4 0 0 1 4 4V450.1a4 4 0 0 1-4 4H2422.1z" fill="#f23645"/>
<rect x="1008" y="340.2" width="256.8" height="46.5" rx="7" fill="#fff" filter="url(#sh)"/>
<rect x="1701.2" y="236.2" width="257" height="46.8" rx="7" fill="#fff" filter="url(#sh)"/>
<g fill="#131313"><path d="M18.9 1399.8H33.8V1418H26.2V1407H18.9z"/><circle cx="39.7" cy="1403.9" r="4.1"/><path d="M47.9 1399.8H55.9L48.1 1418H40.2z"/></g>
<text transform="translate(18.60 41.5) scale(1.05 1)" font-family="Liberation Sans, sans-serif" font-size="22.6" font-weight="400" fill="#0f0f0f" stroke="#0f0f0f" stroke-width="0.35" letter-spacing="0.086" xml:space="preserve">Konrad_1 erstellt mit TradingView.com, Aug 09, 2025 16:35 UTC+2</text>
<text transform="translate(34.20 92.7) scale(0.96 1)" font-family="Liberation Sans, sans-serif" font-size="23" font-weight="400" fill="#0f0f0f" stroke="#0f0f0f" stroke-width="0.35" letter-spacing="0.020" xml:space="preserve">SHELL PLC ORD EUR0.07 · 1W · LSE</text>
<text transform="translate(431.20 92.7) scale(1.0 1)" font-family="Liberation Sans, sans-serif" font-size="23" font-weight="400" fill="#0f0f0f" stroke="#0f0f0f" stroke-width="0.35" letter-spacing="0.000" xml:space="preserve">O</text>
<text transform="translate(449.60 92.7) scale(1.02 1)" font-family="Liberation Sans, sans-serif" font-size="23" font-weight="400" fill="#f23645" stroke="#f23645" stroke-width="0.35" letter-spacing="0.130" xml:space="preserve">2.696,5</text>
<text transform="translate(543.10 92.7) scale(1.0 1)" font-family="Liberation Sans, sans-serif" font-size="23" font-weight="400" fill="#0f0f0f" stroke="#0f0f0f" stroke-width="0.35" letter-spacing="0.000" xml:space="preserve">H</text>
<text transform="translate(560.10 92.7) scale(1.02 1)" font-family="Liberation Sans, sans-serif" font-size="23" font-weight="400" fill="#f23645" stroke="#f23645" stroke-width="0.35" letter-spacing="-0.147" xml:space="preserve">2.755,0</text>
<text transform="translate(652.20 92.7) scale(1.0 1)" font-family="Liberation Sans, sans-serif" font-size="23" font-weight="400" fill="#0f0f0f" stroke="#0f0f0f" stroke-width="0.35" letter-spacing="0.000" xml:space="preserve">L</text>
<text transform="translate(665.00 92.7) scale(1.02 1)" font-family="Liberation Sans, sans-serif" font-size="23" font-weight="400" fill="#f23645" stroke="#f23645" stroke-width="0.35" letter-spacing="0.196" xml:space="preserve">2.635,0</text>
<text transform="translate(759.40 92.7) scale(1.0 1)" font-family="Liberation Sans, sans-serif" font-size="23" font-weight="400" fill="#0f0f0f" stroke="#0f0f0f" stroke-width="0.35" letter-spacing="0.000" xml:space="preserve">C</text>
<text transform="translate(775.40 92.7) scale(1.02 1)" font-family="Liberation Sans, sans-serif" font-size="23" font-weight="400" fill="#f23645" stroke="#f23645" stroke-width="0.35" letter-spacing="0.130" xml:space="preserve">2.653,0</text>
<text transform="translate(869.50 92.7) scale(1.02 1)" font-family="Liberation Sans, sans-serif" font-size="23" font-weight="400" fill="#f23645" stroke="#f23645" stroke-width="0.35" letter-spacing="0.196" xml:space="preserve">−54,0 (−1,99%)</text>
<text transform="translate(2444.50 91.9) scale(0.94 1)" font-family="Liberation Sans, sans-serif" font-size="23.3" font-weight="400" fill="#0f0f0f" stroke="#0f0f0f" stroke-width="0.35" letter-spacing="0.106" xml:space="preserve">GBX</text>
<text transform="translate(2438.50 144.4) scale(1.1 1)" font-family="Liberation Sans, sans-serif" font-size="21.9" font-weight="400" fill="#0f0f0f" stroke="#0f0f0f" stroke-width="0.35" letter-spacing="0.303" xml:space="preserve">4.000,0</text>
<text transform="translate(2437.50 221.4) scale(1.1 1)" font-family="Liberation Sans, sans-serif" font-size="21.9" font-weight="400" fill="#0f0f0f" stroke="#0f0f0f" stroke-width="0.35" letter-spacing="0.455" xml:space="preserve">3.600,0</text>
<text transform="translate(2437.50 307.6) scale(1.1 1)" font-family="Liberation Sans, sans-serif" font-size="21.9" font-weight="400" fill="#0f0f0f" stroke="#0f0f0f" stroke-width="0.35" letter-spacing="0.455" xml:space="preserve">3.200,0</text>
<text transform="translate(2437.50 405.2) scale(1.1 1)" font-family="Liberation Sans, sans-serif" font-size="21.9" font-weight="400" fill="#0f0f0f" stroke="#0f0f0f" stroke-width="0.35" letter-spacing="0.455" xml:space="preserve">2.800,0</text>
<text transform="translate(2437.50 488.1) scale(1.1 1)" font-family="Liberation Sans, sans-serif" font-size="21.9" font-weight="400" fill="#0f0f0f" stroke="#0f0f0f" stroke-width="0.35" letter-spacing="0.455" xml:space="preserve">2.500,0</text>
<text transform="translate(2437.50 549.0) scale(1.1 1)" font-family="Liberation Sans, sans-serif" font-size="21.9" font-weight="400" fill="#0f0f0f" stroke="#0f0f0f" stroke-width="0.35" letter-spacing="0.455" xml:space="preserve">2.300,0</text>
<text transform="translate(2437.50 615.6) scale(1.1 1)" font-family="Liberation Sans, sans-serif" font-size="21.9" font-weight="400" fill="#0f0f0f" stroke="#0f0f0f" stroke-width="0.35" letter-spacing="0.455" xml:space="preserve">2.100,0</text>
<text transform="translate(2436.50 688.7) scale(1.1 1)" font-family="Liberation Sans, sans-serif" font-size="21.9" font-weight="400" fill="#0f0f0f" stroke="#0f0f0f" stroke-width="0.35" letter-spacing="0.606" xml:space="preserve">1.900,0</text>
<text transform="translate(2436.50 748.9) scale(1.1 1)" font-family="Liberation Sans, sans-serif" font-size="21.9" font-weight="400" fill="#0f0f0f" stroke="#0f0f0f" stroke-width="0.35" letter-spacing="0.606" xml:space="preserve">1.750,0</text>
<text transform="translate(2436.50 814.4) scale(1.1 1)" font-family="Liberation Sans, sans-serif" font-size="21.9" font-weight="400" fill="#0f0f0f" stroke="#0f0f0f" stroke-width="0.35" letter-spacing="0.606" xml:space="preserve">1.600,0</text>
<text transform="translate(2436.50 871.4) scale(1.1 1)" font-family="Liberation Sans, sans-serif" font-size="21.9" font-weight="400" fill="#0f0f0f" stroke="#0f0f0f" stroke-width="0.35" letter-spacing="0.606" xml:space="preserve">1.480,0</text>
<text transform="translate(2436.50 933.2) scale(1.1 1)" font-family="Liberation Sans, sans-serif" font-size="21.9" font-weight="400" fill="#0f0f0f" stroke="#0f0f0f" stroke-width="0.35" letter-spacing="0.606" xml:space="preserve">1.360,0</text>
<text transform="translate(2436.50 1000.8) scale(1.1 1)" font-family="Liberation Sans, sans-serif" font-size="21.9" font-weight="400" fill="#0f0f0f" stroke="#0f0f0f" stroke-width="0.35" letter-spacing="0.606" xml:space="preserve">1.240,0</text>
<text transform="translate(2436.50 1062.3) scale(1.1 1)" font-family="Liberation Sans, sans-serif" font-size="21.9" font-weight="400" fill="#0f0f0f" stroke="#0f0f0f" stroke-width="0.35" letter-spacing="0.606" xml:space="preserve">1.140,0</text>
<text transform="translate(2436.50 1129.4) scale(1.1 1)" font-family="Liberation Sans, sans-serif" font-size="21.9" font-weight="400" fill="#0f0f0f" stroke="#0f0f0f" stroke-width="0.35" letter-spacing="0.606" xml:space="preserve">1.040,0</text>
<text transform="translate(2437.50 1187.9) scale(1.1 1)" font-family="Liberation Sans, sans-serif" font-size="21.9" font-weight="400" fill="#0f0f0f" stroke="#0f0f0f" stroke-width="0.35" letter-spacing="0.409" xml:space="preserve">960,0</text>
<text transform="translate(2437.50 1251.5) scale(1.1 1)" font-family="Liberation Sans, sans-serif" font-size="21.9" font-weight="400" fill="#0f0f0f" stroke="#0f0f0f" stroke-width="0.35" letter-spacing="0.409" xml:space="preserve">880,0</text>
<text transform="translate(2437.50 1310.3) scale(1.1 1)" font-family="Liberation Sans, sans-serif" font-size="21.9" font-weight="400" fill="#0f0f0f" stroke="#0f0f0f" stroke-width="0.35" letter-spacing="0.409" xml:space="preserve">812,0</text>
<text transform="translate(2354.70 446.4) scale(1.0 1)" font-family="Liberation Sans, sans-serif" font-size="21.6" font-weight="400" fill="#ffffff" stroke="#ffffff" stroke-width="0.2" letter-spacing="0.167" xml:space="preserve">SHEL</text>
<text transform="translate(2437.90 444.6) scale(1.1 1)" font-family="Liberation Sans, sans-serif" font-size="21.9" font-weight="400" fill="#ffffff" stroke="#ffffff" stroke-width="0.2" letter-spacing="0.379" xml:space="preserve">2.653,0</text>
<text transform="translate(115.80 1360.3) scale(1.13 1)" font-family="Liberation Sans, sans-serif" font-size="23" font-weight="700" fill="#0f0f0f" stroke="#0f0f0f" stroke-width="0.2" letter-spacing="0.708" xml:space="preserve">2020</text>
<text transform="translate(431.00 1360.3) scale(1.13 1)" font-family="Liberation Sans, sans-serif" font-size="23" font-weight="700" fill="#0f0f0f" stroke="#0f0f0f" stroke-width="0.2" letter-spacing="0.708" xml:space="preserve">2021</text>
<text transform="translate(747.80 1360.3) scale(1.13 1)" font-family="Liberation Sans, sans-serif" font-size="23" font-weight="700" fill="#0f0f0f" stroke="#0f0f0f" stroke-width="0.2" letter-spacing="0.708" xml:space="preserve">2022</text>
<text transform="translate(1064.00 1360.3) scale(1.13 1)" font-family="Liberation Sans, sans-serif" font-size="23" font-weight="700" fill="#0f0f0f" stroke="#0f0f0f" stroke-width="0.2" letter-spacing="0.708" xml:space="preserve">2023</text>
<text transform="translate(1380.10 1360.3) scale(1.13 1)" font-family="Liberation Sans, sans-serif" font-size="23" font-weight="700" fill="#0f0f0f" stroke="#0f0f0f" stroke-width="0.2" letter-spacing="0.413" xml:space="preserve">2024</text>
<text transform="translate(1702.60 1360.3) scale(1.13 1)" font-family="Liberation Sans, sans-serif" font-size="23" font-weight="700" fill="#0f0f0f" stroke="#0f0f0f" stroke-width="0.2" letter-spacing="0.708" xml:space="preserve">2025</text>
<text transform="translate(2018.40 1360.3) scale(1.13 1)" font-family="Liberation Sans, sans-serif" font-size="23" font-weight="700" fill="#0f0f0f" stroke="#0f0f0f" stroke-width="0.2" letter-spacing="0.708" xml:space="preserve">2026</text>
<text transform="translate(2334.30 1360.3) scale(1.13 1)" font-family="Liberation Sans, sans-serif" font-size="23" font-weight="700" fill="#0f0f0f" stroke="#0f0f0f" stroke-width="0.2" letter-spacing="0.708" xml:space="preserve">2027</text>
<text transform="translate(288.90 1360.3) scale(1.0 1)" font-family="Liberation Sans, sans-serif" font-size="23" font-weight="400" fill="#0f0f0f" stroke="#0f0f0f" stroke-width="0.35" letter-spacing="0.700" xml:space="preserve">Jul</text>
<text transform="translate(605.30 1360.3) scale(1.0 1)" font-family="Liberation Sans, sans-serif" font-size="23" font-weight="400" fill="#0f0f0f" stroke="#0f0f0f" stroke-width="0.35" letter-spacing="0.700" xml:space="preserve">Jul</text>
<text transform="translate(921.30 1360.3) scale(1.0 1)" font-family="Liberation Sans, sans-serif" font-size="23" font-weight="400" fill="#0f0f0f" stroke="#0f0f0f" stroke-width="0.35" letter-spacing="0.700" xml:space="preserve">Jul</text>
<text transform="translate(1237.80 1360.3) scale(1.0 1)" font-family="Liberation Sans, sans-serif" font-size="23" font-weight="400" fill="#0f0f0f" stroke="#0f0f0f" stroke-width="0.35" letter-spacing="0.700" xml:space="preserve">Jul</text>
<text transform="translate(1553.70 1360.3) scale(1.0 1)" font-family="Liberation Sans, sans-serif" font-size="23" font-weight="400" fill="#0f0f0f" stroke="#0f0f0f" stroke-width="0.35" letter-spacing="0.700" xml:space="preserve">Jul</text>
<text transform="translate(1875.60 1360.3) scale(1.0 1)" font-family="Liberation Sans, sans-serif" font-size="23" font-weight="400" fill="#0f0f0f" stroke="#0f0f0f" stroke-width="0.35" letter-spacing="0.700" xml:space="preserve">Jul</text>
<text transform="translate(2191.60 1360.3) scale(1.0 1)" font-family="Liberation Sans, sans-serif" font-size="23" font-weight="400" fill="#0f0f0f" stroke="#0f0f0f" stroke-width="0.35" letter-spacing="0.700" xml:space="preserve">Jul</text>
<text transform="translate(1025.70 371.8) scale(1.08 1)" font-family="Liberation Sans, sans-serif" font-size="22" font-weight="400" fill="#0f0f0f" stroke="#0f0f0f" stroke-width="0.15" letter-spacing="0.752" xml:space="preserve">379,5 (15,86%) 759</text>
<text transform="translate(1720.00 267.8) scale(1.08 1)" font-family="Liberation Sans, sans-serif" font-size="22" font-weight="400" fill="#0f0f0f" stroke="#0f0f0f" stroke-width="0.15" letter-spacing="0.670" xml:space="preserve">437,5 (15,86%) 875</text>
<text transform="translate(2245.90 318.7) scale(1.12 1)" font-family="Liberation Sans, sans-serif" font-size="53" font-weight="700" fill="#000000" stroke="#000000" stroke-width="0.0" letter-spacing="0.938" xml:space="preserve">3.200</text>
<text transform="translate(63.20 1418.2) scale(1.0 1)" font-family="Liberation Sans, sans-serif" font-size="24.5" font-weight="400" fill="#131313" stroke="#131313" stroke-width="0.5" letter-spacing="0.420" xml:space="preserve">TradingView</text>
</svg>
</body></html>
